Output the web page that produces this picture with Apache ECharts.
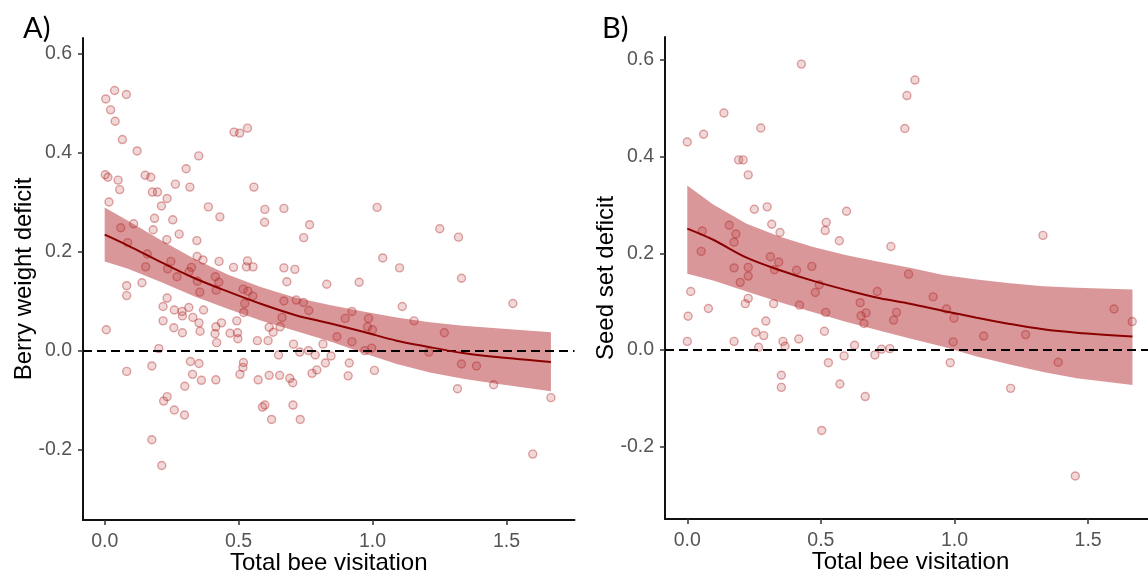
<!DOCTYPE html>
<html>
<head>
<meta charset="utf-8">
<script src="https://cdn.jsdelivr.net/npm/echarts@6/dist/echarts.min.js"></script>
<style>
html,body{margin:0;padding:0;background:#fff;}
#chart{width:1148px;height:575px;}
</style>
</head>
<body>
<div id="chart"></div>
<script>
// ---------- data ----------
const xTicks = [0, 0.5, 1.0, 1.5];
const yTicks = [-0.2, 0.0, 0.2, 0.4, 0.6];

// Panel A: berry weight deficit vs total bee visitation
const pointsA = [
[0.004,0.508],[0.037,0.525],[0.081,0.517],[0.022,0.486],[0.039,0.463],[0.066,0.426],[0.121,0.403],
[0.002,0.355],[0.012,0.350],[0.050,0.344],[0.056,0.325],[0.016,0.300],[0.151,0.354],[0.172,0.350],
[0.178,0.320],[0.197,0.320],[0.233,0.307],[0.212,0.292],[0.186,0.267],[0.181,0.244],[0.254,0.264],
[0.264,0.336],[0.304,0.367],[0.318,0.330],[0.351,0.393],[0.387,0.290],[0.430,0.270],[0.483,0.441],
[0.504,0.439],[0.533,0.449],[0.557,0.330],[0.598,0.285],[0.669,0.287],[0.597,0.259],[0.765,0.254],
[0.743,0.228],[1.017,0.289],[0.060,0.248],[0.108,0.256],[0.278,0.235],[0.232,0.224],[0.344,0.222],
[0.086,0.218],
[0.159,0.195],[0.345,0.190],[0.367,0.183],[0.427,0.180],[0.481,0.168],[0.533,0.181],[0.529,0.169],
[0.554,0.169],[0.669,0.167],[0.710,0.164],[0.247,0.180],[0.153,0.169],[0.235,0.165],[0.324,0.168],
[0.270,0.149],[0.315,0.159],[0.413,0.149],[0.426,0.138],[0.416,0.122],[0.355,0.118],[0.346,0.140],
[0.082,0.131],[0.082,0.111],[0.139,0.137],[0.517,0.124],[0.535,0.120],[0.553,0.110],[0.523,0.095],
[0.519,0.077],[0.669,0.100],[0.680,0.139],[0.715,0.102],[0.742,0.097],[0.762,0.081],[0.829,0.134],
[0.950,0.138],[0.662,0.067],[0.655,0.048],[0.614,0.047],[0.629,0.037],[0.610,0.020],[0.570,0.020],
[0.705,0.013],[0.728,-0.003],[0.761,0.000],[0.786,-0.009],[0.815,0.013],[0.845,-0.011],[0.824,-0.025],
[0.898,0.065],[0.923,0.079],[0.867,0.028],[0.923,0.018],[0.985,0.065],[0.981,0.048],[1.000,0.042],
[0.997,0.005],[0.971,0.000],[0.913,-0.025],[1.007,-0.040],[0.909,-0.051],[0.774,-0.046],[0.792,-0.039],
[0.649,-0.009],[0.653,-0.050],[0.614,-0.050],[0.573,-0.059],[0.691,-0.056],[0.702,-0.065],[0.589,-0.114],
[0.598,-0.110],[0.623,-0.139],[0.703,-0.110],[0.730,-0.139],[0.518,-0.024],[0.516,-0.034],[0.505,-0.048],
[0.493,0.060],[0.496,0.036],[0.497,0.024],[0.468,0.035],[0.436,0.056],[0.415,0.048],[0.412,0.034],
[0.418,0.016],[0.369,0.082],[0.356,0.039],[0.352,0.056],[0.329,0.067],[0.314,0.087],[0.289,0.079],
[0.290,0.070],[0.260,0.082],[0.233,0.106],[0.218,0.089],[0.218,0.060],[0.258,0.046],[0.290,0.036],
[0.006,0.042],[0.202,0.004],[0.176,-0.031],[0.082,-0.042],[0.320,-0.022],[0.352,-0.026],[0.328,-0.048],
[0.361,-0.060],[0.415,-0.059],[0.299,-0.072],[0.233,-0.093],[0.220,-0.102],[0.260,-0.120],[0.298,-0.130],
[0.176,-0.180],[0.213,-0.232],
[1.038,0.187],[1.101,0.167],[1.111,0.089],[1.155,0.060],[1.251,0.246],[1.321,0.229],[1.332,0.146],
[1.268,0.036],[1.210,-0.003],[1.332,-0.027],[1.388,-0.031],[1.317,-0.077],[1.452,-0.069],[1.524,0.095],
[1.666,-0.095],[1.598,-0.209]
];
const fitAx     = [0, 0.087, 0.212, 0.336, 0.461, 0.585, 0.710, 0.840, 0.965, 1.090, 1.214, 1.338, 1.463, 1.666];
const fitAy     = [0.234, 0.212, 0.178, 0.146, 0.119, 0.094, 0.072, 0.055, 0.038, 0.020, 0.007, -0.005, -0.013, -0.023];
const fitAupper = [0.289, 0.262, 0.222, 0.185, 0.153, 0.128, 0.107, 0.092, 0.079, 0.067, 0.057, 0.050, 0.045, 0.037];
const fitAlower = [0.180, 0.165, 0.138, 0.109, 0.084, 0.060, 0.040, 0.019, -0.005, -0.027, -0.044, -0.057, -0.067, -0.082];

// Panel B: seed set deficit vs total bee visitation
const pointsB = [
[0.000,0.430],[0.061,0.446],[0.137,0.490],[0.275,0.459],[0.427,0.591],[0.192,0.393],[0.209,0.393],
[0.228,0.362],[0.822,0.526],[0.852,0.558],[0.814,0.458],[0.251,0.291],[0.299,0.296],[0.596,0.287],
[0.520,0.264],[0.516,0.247],[0.316,0.260],[0.347,0.243],[0.569,0.226],[0.762,0.214],[0.157,0.258],
[0.056,0.246],[0.182,0.240],[0.175,0.223],[0.052,0.204],[0.311,0.193],[0.342,0.182],[0.326,0.166],
[0.175,0.170],[0.228,0.171],[0.466,0.173],[0.409,0.165],[0.828,0.157],
[0.198,0.140],[0.228,0.153],[0.494,0.135],[0.479,0.119],[0.013,0.121],[0.003,0.070],[0.000,0.018],
[0.079,0.086],[0.228,0.107],[0.217,0.096],[0.323,0.096],[0.420,0.093],[0.294,0.060],[0.256,0.037],
[0.286,0.030],[0.175,0.018],[0.267,0.006],[0.358,0.018],[0.366,0.008],[0.417,0.023],[0.352,-0.052],
[0.352,-0.077],[0.518,0.078],[0.513,0.039],[0.528,-0.026],[0.503,-0.166],[0.571,-0.070],[0.587,-0.012],
[0.626,0.010],[0.647,0.098],[0.650,0.071],[0.669,0.077],[0.661,0.055],[0.711,0.121],[0.666,-0.096],
[0.702,-0.010],[0.727,0.002],[0.758,0.003],[0.783,0.078],[0.772,0.062],
[0.920,0.110],[0.970,0.085],[0.998,0.066],[0.995,0.017],[0.984,-0.026],[1.109,0.029],[1.266,0.032],
[1.331,0.237],[1.388,-0.025],[1.210,-0.079],[1.452,-0.260],[1.597,0.085],[1.665,0.059]
];
const fitBx     = [0, 0.097, 0.222, 0.347, 0.471, 0.596, 0.721, 0.833, 0.958, 1.083, 1.207, 1.332, 1.457, 1.666];
const fitBy     = [0.251, 0.228, 0.191, 0.165, 0.143, 0.124, 0.107, 0.096, 0.081, 0.067, 0.054, 0.043, 0.036, 0.028];
const fitBupper = [0.340, 0.301, 0.261, 0.234, 0.213, 0.196, 0.182, 0.170, 0.155, 0.146, 0.138, 0.132, 0.129, 0.125];
const fitBlower = [0.158, 0.144, 0.121, 0.099, 0.078, 0.058, 0.040, 0.024, 0.007, -0.013, -0.030, -0.045, -0.058, -0.072];

// ---------- chart ----------
const FONT = 'Liberation Sans, Arial, sans-serif';
const chart = echarts.init(document.getElementById('chart'), null, {renderer: 'canvas'});

function xAxisCfg(idx, min, max) {
  return {
    gridIndex: idx, type: 'value', min: min, max: max,
    name: 'Total bee visitation', nameLocation: 'middle', nameGap: 31, nameMoveOverlap: false,
    nameTextStyle: {fontSize: 24, color: '#000', fontFamily: FONT},
    axisLine: {show: true, onZero: false, lineStyle: {color: '#111', width: 2}},
    axisTick: {show: true, length: 5, customValues: xTicks, lineStyle: {color: '#333', width: 1.5}},
    axisLabel: {customValues: xTicks, formatter: v => v.toFixed(1), color: '#555', fontSize: 19.5, fontFamily: FONT, margin: 12},
    splitLine: {show: false}
  };
}
function yAxisCfg(idx, min, max, name) {
  return {
    gridIndex: idx, type: 'value', min: min, max: max,
    name: name, nameLocation: 'middle', nameGap: 47, nameRotate: 90, nameMoveOverlap: false,
    nameTextStyle: {fontSize: 24, color: '#000', fontFamily: FONT},
    axisLine: {show: true, onZero: false, lineStyle: {color: '#111', width: 2}},
    axisTick: {show: true, length: 5, customValues: yTicks, lineStyle: {color: '#333', width: 1.5}},
    axisLabel: {customValues: yTicks, formatter: v => v.toFixed(1), color: '#555', fontSize: 19.5, fontFamily: FONT, margin: 11},
    splitLine: {show: false}
  };
}
function ribbon(idx, xs, lo, hi) {
  return {
    type: 'custom', xAxisIndex: idx, yAxisIndex: idx, silent: true, z: 1,
    data: xs.map((x, i) => [x, lo[i], hi[i]]),
    renderItem: function (params, api) {
      if (params.dataIndex !== 0) return null;
      const pts = [];
      for (let i = 0; i < xs.length; i++) pts.push(api.coord([xs[i], hi[i]]));
      for (let i = xs.length - 1; i >= 0; i--) pts.push(api.coord([xs[i], lo[i]]));
      return {type: 'polygon', shape: {points: pts}, style: {fill: 'rgba(185,55,60,0.52)', stroke: null}};
    }
  };
}
function scatter(idx, pts) {
  return {
    type: 'scatter', xAxisIndex: idx, yAxisIndex: idx, z: 2, silent: true,
    symbol: 'circle', symbolSize: 8, data: pts,
    itemStyle: {color: 'rgba(178,34,34,0.22)', borderColor: 'rgba(178,34,34,0.5)', borderWidth: 1.4}
  };
}
function fitLine(idx, xs, ys) {
  return {
    type: 'line', xAxisIndex: idx, yAxisIndex: idx, z: 4, silent: true,
    data: xs.map((x, i) => [x, ys[i]]), showSymbol: false, smooth: 0.35,
    lineStyle: {color: '#8b0000', width: 2},
    markLine: {
      silent: true, symbol: 'none', label: {show: false}, z: 3,
      lineStyle: {color: '#000', width: 2, type: [9, 5]},
      data: [{yAxis: 0}]
    }
  };
}

chart.setOption({
  animation: false,
  backgroundColor: '#fff',
  grid: [
    {left: 83, top: 38, width: 491.5, height: 482, outerBoundsMode: 'none', containLabel: false},
    {left: 665, top: 37, width: 491, height: 482, outerBoundsMode: 'none', containLabel: false}
  ],
  xAxis: [xAxisCfg(0, -0.081, 1.754), xAxisCfg(1, -0.0834, 1.754)],
  yAxis: [yAxisCfg(0, -0.342, 0.631, 'Berry weight deficit'), yAxisCfg(1, -0.349, 0.647, 'Seed set deficit')],
  graphic: [
    {type: 'text', left: 23, top: 14, style: {text: 'A)', font: '29px Lato, Carlito, sans-serif', fill: '#000'}},
    {type: 'text', left: 602, top: 14, style: {text: 'B)', font: '29px Lato, Carlito, sans-serif', fill: '#000'}}
  ],
  series: [
    ribbon(0, fitAx, fitAlower, fitAupper),
    scatter(0, pointsA),
    fitLine(0, fitAx, fitAy),
    ribbon(1, fitBx, fitBlower, fitBupper),
    scatter(1, pointsB),
    fitLine(1, fitBx, fitBy)
  ]
});
</script>
</body>
</html>
